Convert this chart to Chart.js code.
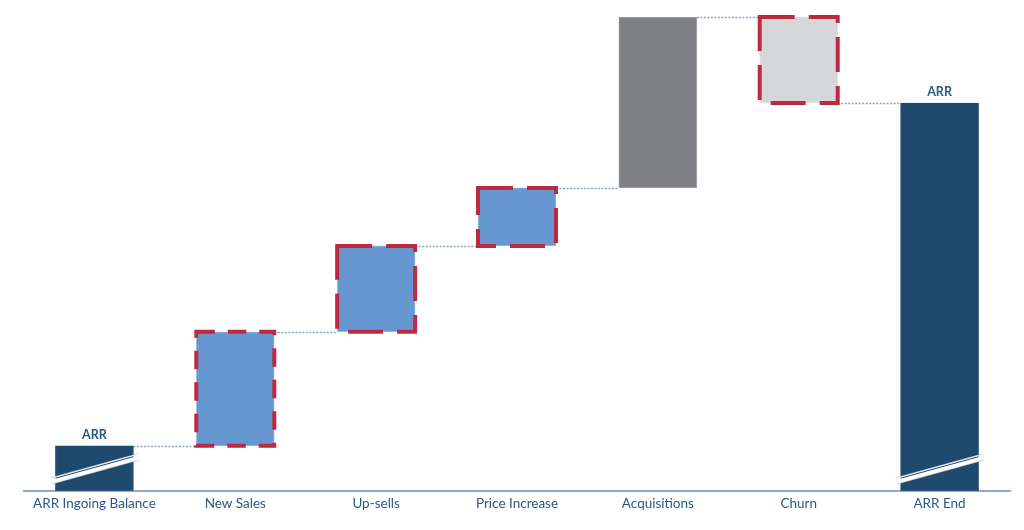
<!DOCTYPE html>
<html>
<head>
<meta charset="utf-8">
<title>ARR bridge</title>
<script src="https://cdn.jsdelivr.net/npm/chart.js@4.4.1/dist/chart.umd.min.js"></script>
<style>
    body { margin: 0; background: #ffffff; }
    #wrap { width: 1024px; height: 530px; position: relative; }
</style>
</head>
<body>
<div id="wrap"><canvas id="chart"></canvas></div>
<script>
/* ============================================================
   DATA
============================================================ */

const categories = [
    "ARR Ingoing Balance", "New Sales", "Up-sells", "Price Increase",
    "Acquisitions", "Churn", "ARR End"
];

const startValue = 45;                        // ingoing ARR (axis is broken)
const changes    = [114, 86, 58, 171, -86];   // new sales, up-sells, price, acquisitions, churn
const endValue   = 388;                       // ARR end (axis is broken)
const axisMax    = 474;

const totalLabels = ["ARR", "", "", "", "", "", "ARR"];


/* ============================================================
   STYLE
============================================================ */

const NAVY  = "#1f4a6e";
const BLUE  = "#6797d1";
const GREY  = "#7f8083";
const LIGHT = "#d6d7d9";
const RED   = "#bd2a40";
const TEXT  = "#2c5886";

const fills   = [NAVY, BLUE, BLUE, BLUE, GREY, LIGHT, NAVY];
const outline = [NAVY, "#a3c0e4", "#a3c0e4", "#a3c0e4", "#a2a3a6", "#e2e3e5", NAVY];
// red dashed frames: [dash, gap] per bar, null = no frame
const frames  = [null, [18.5, 13], [35, 14], [35, 14], null, [35, 14], null];
const broken  = [true, false, false, false, false, false, true];


/* ============================================================
   BUILD FLOATING RANGES
============================================================ */

const ranges = [[0, startValue]];
const levels = [startValue];
let running = startValue;
changes.forEach(c => {
    ranges.push([running, running + c]);
    running += c;
    levels.push(running);
});
ranges.push([0, endValue]);


/* ============================================================
   PLUGIN: connectors, dashed frames, axis breaks, labels
============================================================ */

function barBox(bar) {
    const p = bar.getProps(["x", "y", "base", "width"], true);
    return {
        left: p.x - p.width / 2,
        right: p.x + p.width / 2,
        top: Math.min(p.y, p.base),
        bottom: Math.max(p.y, p.base),
        x: p.x
    };
}

const waterfallPlugin = {
    id: "waterfall",
    beforeDatasetsDraw(chart) {
        const ctx = chart.ctx;
        const meta = chart.getDatasetMeta(0);
        const y = chart.scales.y;

        ctx.save();
        ctx.strokeStyle = "#8ba3c1";
        ctx.lineWidth = 1.3;
        ctx.setLineDash([2, 1.5]);
        for (let i = 0; i < meta.data.length - 1; i++) {
            const a = barBox(meta.data[i]);
            const b = barBox(meta.data[i + 1]);
            const py = Math.round(y.getPixelForValue(levels[i])) + 0.5;
            ctx.beginPath();
            ctx.moveTo(a.right, py);
            ctx.lineTo(b.left, py);
            ctx.stroke();
        }
        ctx.restore();
    },
    afterDatasetsDraw(chart) {
        const ctx = chart.ctx;
        const meta = chart.getDatasetMeta(0);

        meta.data.forEach((bar, i) => {
            const b = barBox(bar);

            // red dashed frame
            if (frames[i]) {
                ctx.save();
                ctx.strokeStyle = RED;
                ctx.lineWidth = 4;
                ctx.lineCap = "butt";
                ctx.setLineDash(frames[i]);
                ctx.strokeRect(b.left, b.top, b.right - b.left, b.bottom - b.top);
                ctx.restore();
            }

            // axis break slash
            if (broken[i]) {
                const x0 = b.left - 4, y0 = b.bottom - 10;
                const x1 = b.right + 5, y1 = b.bottom - 34;
                ctx.save();
                ctx.lineCap = "butt";
                ctx.strokeStyle = "#c3ccd6";
                ctx.lineWidth = 7;
                ctx.beginPath(); ctx.moveTo(x0, y0); ctx.lineTo(x1, y1); ctx.stroke();
                ctx.strokeStyle = "#ffffff";
                ctx.lineWidth = 5.5;
                ctx.beginPath(); ctx.moveTo(x0, y0); ctx.lineTo(x1, y1); ctx.stroke();
                ctx.strokeStyle = NAVY;
                ctx.lineWidth = 1;
                ctx.beginPath();
                ctx.moveTo(b.left, y0 - 1.5 - (b.left - x0) * 24 / (x1 - x0));
                ctx.lineTo(b.right, y0 - 1.5 - (b.right - x0) * 24 / (x1 - x0));
                ctx.stroke();
                ctx.restore();
            }

            // total label
            if (totalLabels[i]) {
                ctx.save();
                ctx.fillStyle = TEXT;
                ctx.font = "bold 12.5px Lato";
                ctx.textAlign = "center";
                ctx.textBaseline = "middle";
                ctx.fillText(totalLabels[i], b.x, b.top - 11);
                ctx.restore();
            }
        });
    }
};


/* ============================================================
   CHART
============================================================ */

new Chart(document.getElementById("chart"), {
    type: "bar",
    data: {
        labels: categories,
        datasets: [{
            data: ranges,
            backgroundColor: fills,
            borderColor: outline,
            borderWidth: 1,
            borderSkipped: false,
            barThickness: 78
        }]
    },
    options: {
        responsive: true,
        maintainAspectRatio: false,
        animation: false,
        layout: { padding: { left: 24, right: 14, top: 17, bottom: 13 } },
        plugins: {
            legend: { display: false },
            tooltip: { enabled: false }
        },
        scales: {
            x: {
                grid: { display: false, drawTicks: false },
                border: { display: true, color: "#8eaacb", width: 2 },
                ticks: {
                    color: TEXT,
                    font: { family: "Lato", size: 13.5 },
                    padding: 5,
                    maxRotation: 0,
                    autoSkip: false
                }
            },
            y: {
                display: false,
                min: 0,
                max: axisMax
            }
        }
    },
    plugins: [waterfallPlugin]
});
</script>
</body>
</html>
